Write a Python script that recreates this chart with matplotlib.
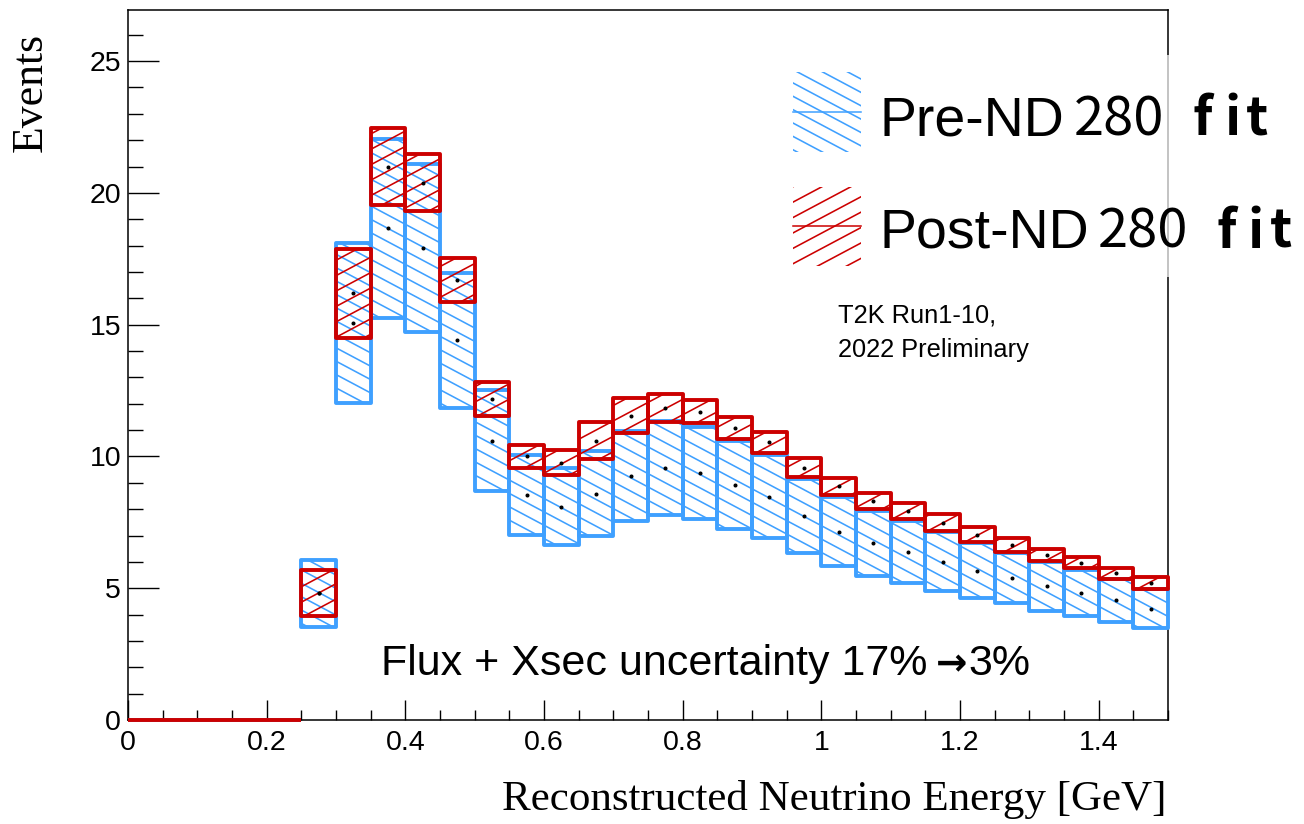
import numpy as np
import matplotlib
matplotlib.use("Agg")
import matplotlib.pyplot as plt
from matplotlib.patches import Rectangle
from matplotlib.collections import LineCollection, PatchCollection
from matplotlib.lines import Line2D
from matplotlib.path import Path
from matplotlib.transforms import IdentityTransform
from matplotlib.ticker import MultipleLocator, FuncFormatter

W, H, DPI = 1304, 824, 100
BLUE = "#3fa0ff"
RED = "#cc0000"
SANS = ["Liberation Sans", "DejaVu Sans"]
SERIF = ["Liberation Serif", "DejaVu Serif"]
CJK = ["Noto Sans CJK JP", "DejaVu Sans"]
plt.rcParams["font.family"] = SANS

# ── DATA ──────────────────────────────────────────────────────────────────────
BIN_W = 0.05
bin_lo = [round(i * BIN_W, 2) for i in range(30)]          # 0 .. 1.45 GeV

pre_val  = [0, 0, 0, 0, 0,
            4.80, 15.07, 18.65, 17.90, 14.40, 10.60, 8.53, 8.10, 8.59, 9.26,
            9.56, 9.37, 8.92, 8.48, 7.74, 7.15, 6.70, 6.38, 6.01, 5.67,
            5.39, 5.07, 4.82, 4.54, 4.23]
pre_err  = [0, 0, 0, 0, 0,
            1.27, 3.04, 3.40, 3.18, 2.56, 1.92, 1.52, 1.46, 1.61, 1.71,
            1.78, 1.75, 1.67, 1.58, 1.40, 1.31, 1.24, 1.18, 1.12, 1.04,
            0.95, 0.93, 0.87, 0.82, 0.74]
post_val = [0, 0, 0, 0, 0,
            4.82, 16.20, 21.00, 20.39, 16.70, 12.18, 10.00, 9.77, 10.60, 11.55,
            11.84, 11.70, 11.08, 10.53, 9.58, 8.86, 8.30, 7.92, 7.49, 7.03,
            6.63, 6.26, 5.97, 5.56, 5.20]
post_err = [0, 0, 0, 0, 0,
            0.87, 1.69, 1.45, 1.08, 0.84, 0.65, 0.44, 0.48, 0.70, 0.66,
            0.54, 0.44, 0.42, 0.40, 0.36, 0.32, 0.30, 0.30, 0.32, 0.28,
            0.26, 0.23, 0.20, 0.21, 0.22]

legend_labels = [("Pre-ND", "280", "fit"), ("Post-ND", "280", "fit")]
note_lines = ["T2K Run1-10,", "2022 Preliminary"]
note_flux = ["Flux + Xsec uncertainty 17%", "\u2192", "3%"]


# ── helpers ───────────────────────────────────────────────────────────────────
def hatch(rects, angle, step, color, lw):
    """parallel lines in display px, clipped to a set of display-px rectangles"""
    verts, codes = [], []
    for x0, y0, x1, y1 in rects:
        verts += [(x0, y0), (x1, y0), (x1, y1), (x0, y1), (x0, y0)]
        codes += [Path.MOVETO, Path.LINETO, Path.LINETO, Path.LINETO, Path.CLOSEPOLY]
    a = np.deg2rad(angle)
    d = np.array([np.cos(a), np.sin(a)])
    n = np.array([-np.sin(a), np.cos(a)])
    proj = np.array([[0, 0], [W, 0], [0, H], [W, H]]) @ n
    offs = np.arange(np.floor(proj.min() / step) * step, proj.max() + step, step)
    L = W + H
    segs = [[o * n - L * d, o * n + L * d] for o in offs]
    lc = LineCollection(segs, colors=color, linewidths=lw,
                        transform=IdentityTransform())
    lc.set_clip_path(Path(verts, codes), IdentityTransform())
    return lc


def ftext(x, y_top, s, **kw):
    return fig.text(x / W, 1 - y_top / H, s, **kw)


# ── FIGURE ────────────────────────────────────────────────────────────────────
fig = plt.figure(figsize=(W / DPI, H / DPI), dpi=DPI, facecolor="white")
ax = fig.add_axes([128 / W, 1 - 720 / H, 1040 / W, 710 / H])
ax.set_xlim(0, 1.5)
ax.set_ylim(0, 26.94)


def draw_band(vals, errs, color, hatch_angle, step, z):
    data_rects, patches = [], []
    for x, v, e in zip(bin_lo, vals, errs):
        patches.append(Rectangle((x, v - e), BIN_W, 2 * e))
        if e > 0:
            p0 = ax.transData.transform((x, v - e))
            p1 = ax.transData.transform((x + BIN_W, v + e))
            data_rects.append((p0[0], p0[1], p1[0], p1[1]))
    lc = hatch(data_rects, hatch_angle, step, color, 1.15)
    lc.set_zorder(z)
    ax.add_collection(lc, autolim=False)
    pc = PatchCollection(patches, facecolor="none", edgecolor=color,
                         linewidth=2.8, zorder=z + 1, clip_on=False)
    ax.add_collection(pc, autolim=False)
    xs = [x + BIN_W / 2 for x, v in zip(bin_lo, vals) if v > 0]
    ys = [v for v in vals if v > 0]
    ax.plot(xs, ys, ls="none", marker="o", ms=1.9, color="black", zorder=z + 1.5)


draw_band(pre_val, pre_err, BLUE, -28, 11.8, 2)
draw_band(post_val, post_err, RED, 28, 13.6, 5)

# ── AXES STYLE ────────────────────────────────────────────────────────────────
ax.xaxis.set_major_locator(MultipleLocator(0.2))
ax.xaxis.set_minor_locator(MultipleLocator(0.05))
ax.yaxis.set_major_locator(MultipleLocator(5))
ax.yaxis.set_minor_locator(MultipleLocator(1))
ax.xaxis.set_major_formatter(FuncFormatter(lambda v, p: f"{v:g}"))
ax.tick_params(which="both", direction="in", top=False, right=False,
               width=1.0, color="black")
ax.tick_params(axis="x", which="major", length=14.4, pad=7, labelsize=20.5)
ax.tick_params(axis="x", which="minor", length=7.2)
ax.tick_params(axis="y", which="major", length=22.3, pad=5, labelsize=20.5)
ax.tick_params(axis="y", which="minor", length=10.8)
for s in ax.spines.values():
    s.set_linewidth(1.1)

# axis titles (ROOT style, Times)
ftext(1166, 810, "Reconstructed Neutrino Energy [GeV]", ha="right",
      va="baseline", fontsize=31, family=SERIF)
ftext(31, 33, "Events", rotation=90, ha="center", va="top",
      fontsize=31.5, family=SERIF)

# ── ANNOTATIONS ───────────────────────────────────────────────────────────────
ftext(838, 323, note_lines[0], fontsize=18.3, va="baseline")
ftext(838, 357, note_lines[1], fontsize=18.3, va="baseline")

renderer = fig.canvas.get_renderer()
t1 = ftext(381, 675, note_flux[0], fontsize=31, va="baseline")
x_end = t1.get_window_extent(renderer).x1
t2 = fig.text((x_end + 8) / W, 1 - 675 / H, note_flux[1], fontsize=27,
              family=["DejaVu Sans"], fontweight="bold", va="baseline")
x_end = t2.get_window_extent(renderer).x1
fig.text((x_end + 2) / W, 1 - 675 / H, note_flux[2], fontsize=31,
         va="baseline")

# ── LEGEND (pasted over the right frame) ──────────────────────────────────────
fig.add_artist(Rectangle((1160, H - 277), 144, 222, transform=IdentityTransform(),
                         facecolor="white", edgecolor="none", alpha=0.7, zorder=5))
sym_rows = [(72, 152, 112, BLUE, -28, 11.8), (187, 266, 226, RED, 28, 13.6)]
for y0, y1, ym, col, ang, st in sym_rows:
    lc = hatch([(793, H - y1, 861, H - y0)], ang, st, col, 1.15)
    lc.set_zorder(6)
    fig.add_artist(lc)
    fig.add_artist(Line2D([793, 861], [H - ym, H - ym], color=col, lw=1.1,
                          transform=IdentityTransform(), zorder=6))

text_rows = [(135, 1074, [1193, 1224, 1246]), (248, 1098, [1217, 1247, 1270])]
for (head, num, tail), (yb, xnum, xs) in zip(legend_labels, text_rows):
    ftext(879, yb, head, fontsize=40, va="baseline", zorder=7)
    ftext(xnum, yb, num, fontsize=39, va="baseline", family=CJK, zorder=7)
    for ch, xc in zip(tail, xs):
        ftext(xc, yb, ch, fontsize=38, va="baseline", family=CJK,
              fontweight="bold", zorder=7)

fig.savefig("out.png", dpi=DPI, facecolor="white")
